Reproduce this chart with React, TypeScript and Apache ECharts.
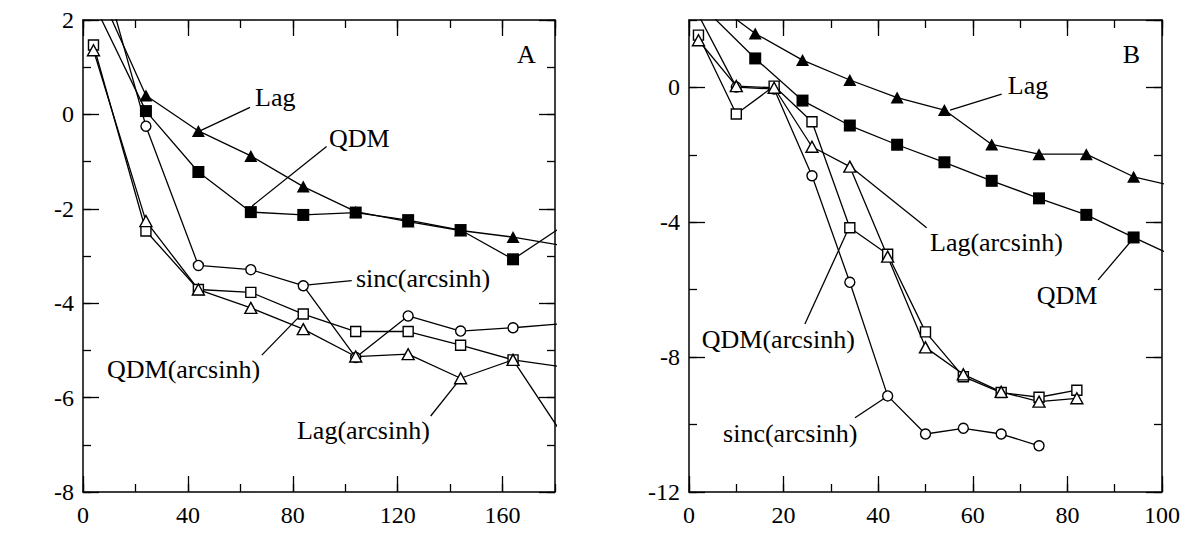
import React, { useEffect, useRef } from 'react';
import * as echarts from 'echarts';

const FONT = 'Liberation Serif';

const nA = [4, 24, 44, 64, 84, 104, 124, 144, 164, 184];
const lagA = [2.87, 0.4, -0.35, -0.88, -1.53, -2.06, -2.27, -2.46, -2.6, -2.79];
const qdmA = [2.36, 0.07, -1.22, -2.07, -2.13, -2.08, -2.24, -2.45, -3.07, -2.33];
const sincAsA = [3.74, -0.25, -3.2, -3.29, -3.63, -5.15, -4.27, -4.59, -4.52, -4.43];
const qdmAsA = [1.47, -2.47, -3.71, -3.77, -4.23, -4.6, -4.6, -4.89, -5.2, -5.36];
const lagAsA = [1.36, -2.26, -3.71, -4.1, -4.55, -5.13, -5.08, -5.59, -5.2, -6.88];

const nB = [4, 14, 24, 34, 44, 54, 64, 74, 84, 94, 104];
const lagB = [2.64, 1.6, 0.81, 0.22, -0.3, -0.67, -1.69, -1.98, -1.98, -2.65, -2.98];
const qdmB = [2.24, 0.86, -0.39, -1.13, -1.7, -2.22, -2.77, -3.29, -3.78, -4.45, -5.1];
const nBs = [2, 10, 18, 26, 34, 42, 50, 58, 66, 74, 82];
const qdmAsB = [1.55, -0.79, 0.04, -1.02, -4.16, -4.95, -7.25, -8.58, -9.05, -9.19, -8.98];
const lagAsB = [1.4, 0.04, -0.01, -1.76, -2.35, -5.02, -7.71, -8.51, -9.03, -9.32, -9.22];
const sincAsB = [2.15, 0.01, -0.05, -2.62, -5.78, -9.15, -10.28, -10.11, -10.28, -10.63];

const xRangeA = [0, 180];
const yRangeA = [-8, 2];
const xRangeB = [0, 100];
const yRangeB = [-12, 2];

type Ann = { grid: number; text: string; at: [number, number]; from?: [number, number]; to?: [number, number] };
const annotations: Ann[] = [
  { grid: 0, text: 'A', at: [165.5, 1.26] },
  { grid: 0, text: 'Lag', at: [65.6, 0.35], from: [63.7, 0.15], to: [44.6, -0.35] },
  { grid: 0, text: 'QDM', at: [93.8, -0.5], from: [92.9, -0.68], to: [64.5, -1.94] },
  { grid: 0, text: 'sinc(arcsinh)', at: [104.1, -3.47], from: [102.5, -3.52], to: [85.9, -3.61] },
  { grid: 0, text: 'QDM(arcsinh)', at: [9.15, -5.41], from: [68.2, -5.1], to: [82, -4.31] },
  { grid: 0, text: 'Lag(arcsinh)', at: [81.6, -6.69], from: [132.6, -6.39], to: [142.5, -5.7] },
  { grid: 1, text: 'B', at: [91.7, 0.98] },
  { grid: 1, text: 'Lag', at: [67.4, 0.07], from: [66.1, -0.2], to: [55.2, -0.67] },
  { grid: 1, text: 'Lag(arcsinh)', at: [50.95, -4.61], from: [50.25, -4.16], to: [34.5, -2.39] },
  { grid: 1, text: 'QDM', at: [73.5, -6.16], from: [86.5, -5.71], to: [94.1, -4.45] },
  { grid: 1, text: 'QDM(arcsinh)', at: [2.7, -7.49], from: [24.5, -7.02], to: [33.4, -4.29] },
  { grid: 1, text: 'sinc(arcsinh)', at: [7.2, -10.25], from: [35.1, -9.8], to: [41.4, -9.21] },
];

const pairs = (xs: number[], ys: number[]) => ys.map((y, i) => [xs[i], y]);
const black = '#000';
const tickStyle = { color: black, width: 1.3 };
const labelStyle = { fontFamily: FONT, fontSize: 24, color: black };

function xAxes(grid: number, range: number[], major: number, minor: number, showMax: boolean) {
  const base = { type: 'value', gridIndex: grid, min: range[0], max: range[1], splitLine: { show: false } };
  const line = { show: true, onZero: false, lineStyle: { color: black, width: 1.5 } };
  const noLine = { show: false, onZero: false };
  return [
    {
      ...base, position: 'bottom', interval: major, axisLine: line,
      axisTick: { inside: true, length: 16, lineStyle: tickStyle },
      axisLabel: { ...labelStyle, margin: 11, showMaxLabel: showMax },
    },
    { ...base, position: 'bottom', interval: minor, axisLine: noLine, axisTick: { inside: true, length: 8, lineStyle: tickStyle }, axisLabel: { show: false } },
    { ...base, position: 'top', interval: major, axisLine: line, axisTick: { inside: true, length: 16, lineStyle: tickStyle }, axisLabel: { show: false } },
    { ...base, position: 'top', interval: minor, axisLine: noLine, axisTick: { inside: true, length: 8, lineStyle: tickStyle }, axisLabel: { show: false } },
  ];
}

function yAxes(grid: number, range: number[], major: number, minor: number, showMax: boolean) {
  const base = { type: 'value', gridIndex: grid, min: range[0], max: range[1], splitLine: { show: false } };
  const line = { show: true, onZero: false, lineStyle: { color: black, width: 1.5 } };
  const noLine = { show: false, onZero: false };
  return [
    {
      ...base, position: 'left', interval: major, axisLine: line,
      axisTick: { inside: true, length: 16, lineStyle: tickStyle },
      axisLabel: { ...labelStyle, margin: 9, showMaxLabel: showMax },
    },
    { ...base, position: 'left', interval: minor, axisLine: noLine, axisTick: { inside: true, length: 8, lineStyle: tickStyle }, axisLabel: { show: false } },
    { ...base, position: 'right', interval: major, axisLine: line, axisTick: { inside: true, length: 16, lineStyle: tickStyle }, axisLabel: { show: false } },
    { ...base, position: 'right', interval: minor, axisLine: noLine, axisTick: { inside: true, length: 8, lineStyle: tickStyle }, axisLabel: { show: false } },
  ];
}

type Mk = 'filledTri' | 'filledRect' | 'openCircle' | 'openRect' | 'openTri';
function series(name: string, axisIdx: number, data: number[][], mk: Mk) {
  const filled = mk === 'filledTri' || mk === 'filledRect';
  const symbol = mk.endsWith('Tri') ? 'triangle' : mk.endsWith('Rect') ? 'rect' : 'circle';
  const size = mk === 'filledTri' ? [13, 12] : mk === 'filledRect' ? 12 : mk === 'openTri' ? [12, 11] : 10;
  return {
    type: 'line', name, xAxisIndex: axisIdx, yAxisIndex: axisIdx, data,
    symbol, symbolSize: size, showAllSymbol: true, clip: true,
    lineStyle: { color: black, width: 1.3 },
    itemStyle: filled ? { color: black, borderColor: black, borderWidth: 0 } : { color: '#fff', borderColor: black, borderWidth: 1.4 },
  };
}

export default function App() {
  const ref = useRef<HTMLDivElement>(null);
  useEffect(() => {
    if (!ref.current) return;
    const chart = echarts.init(ref.current, undefined, { renderer: 'svg' });
    chart.setOption({
      animation: false,
      backgroundColor: '#fff',
      grid: [
        { left: 83, top: 20, width: 472, height: 472 },
        { left: 689, top: 20, width: 473, height: 472 },
      ],
      xAxis: [...xAxes(0, xRangeA, 40, 20, false), ...xAxes(1, xRangeB, 20, 10, true)],
      yAxis: [...yAxes(0, yRangeA, 2, 1, true), ...yAxes(1, yRangeB, 4, 2, false)],
      series: [
        series('Lag', 0, pairs(nA, lagA), 'filledTri'),
        series('QDM', 0, pairs(nA, qdmA), 'filledRect'),
        series('sinc(arcsinh)', 0, pairs(nA, sincAsA), 'openCircle'),
        series('QDM(arcsinh)', 0, pairs(nA, qdmAsA), 'openRect'),
        series('Lag(arcsinh)', 0, pairs(nA, lagAsA), 'openTri'),
        series('Lag', 4, pairs(nB, lagB), 'filledTri'),
        series('QDM', 4, pairs(nB, qdmB), 'filledRect'),
        series('sinc(arcsinh)', 4, pairs(nBs, sincAsB), 'openCircle'),
        series('QDM(arcsinh)', 4, pairs(nBs, qdmAsB), 'openRect'),
        series('Lag(arcsinh)', 4, pairs(nBs, lagAsB), 'openTri'),
      ],
    } as any);

    const graphics: any[] = [];
    annotations.forEach((a) => {
      const idx = a.grid * 4;
      const finder = { xAxisIndex: idx, yAxisIndex: idx };
      const p = chart.convertToPixel(finder as any, a.at) as number[];
      graphics.push({
        type: 'text', x: p[0], y: p[1], silent: true,
        style: { text: a.text, fontFamily: FONT, fontSize: 26, fill: black, align: 'left', verticalAlign: 'middle' },
      });
      if (a.from && a.to) {
        const f = chart.convertToPixel(finder as any, a.from) as number[];
        const tt = chart.convertToPixel(finder as any, a.to) as number[];
        graphics.push({ type: 'line', silent: true, shape: { x1: f[0], y1: f[1], x2: tt[0], y2: tt[1] }, style: { stroke: black, lineWidth: 1.3 } });
      }
    });
    chart.setOption({ graphic: graphics });
    return () => chart.dispose();
  }, []);
  return <div ref={ref} style={{ position: 'fixed', left: 0, top: 0, width: 1184, height: 558, background: '#fff' }} />;
}
